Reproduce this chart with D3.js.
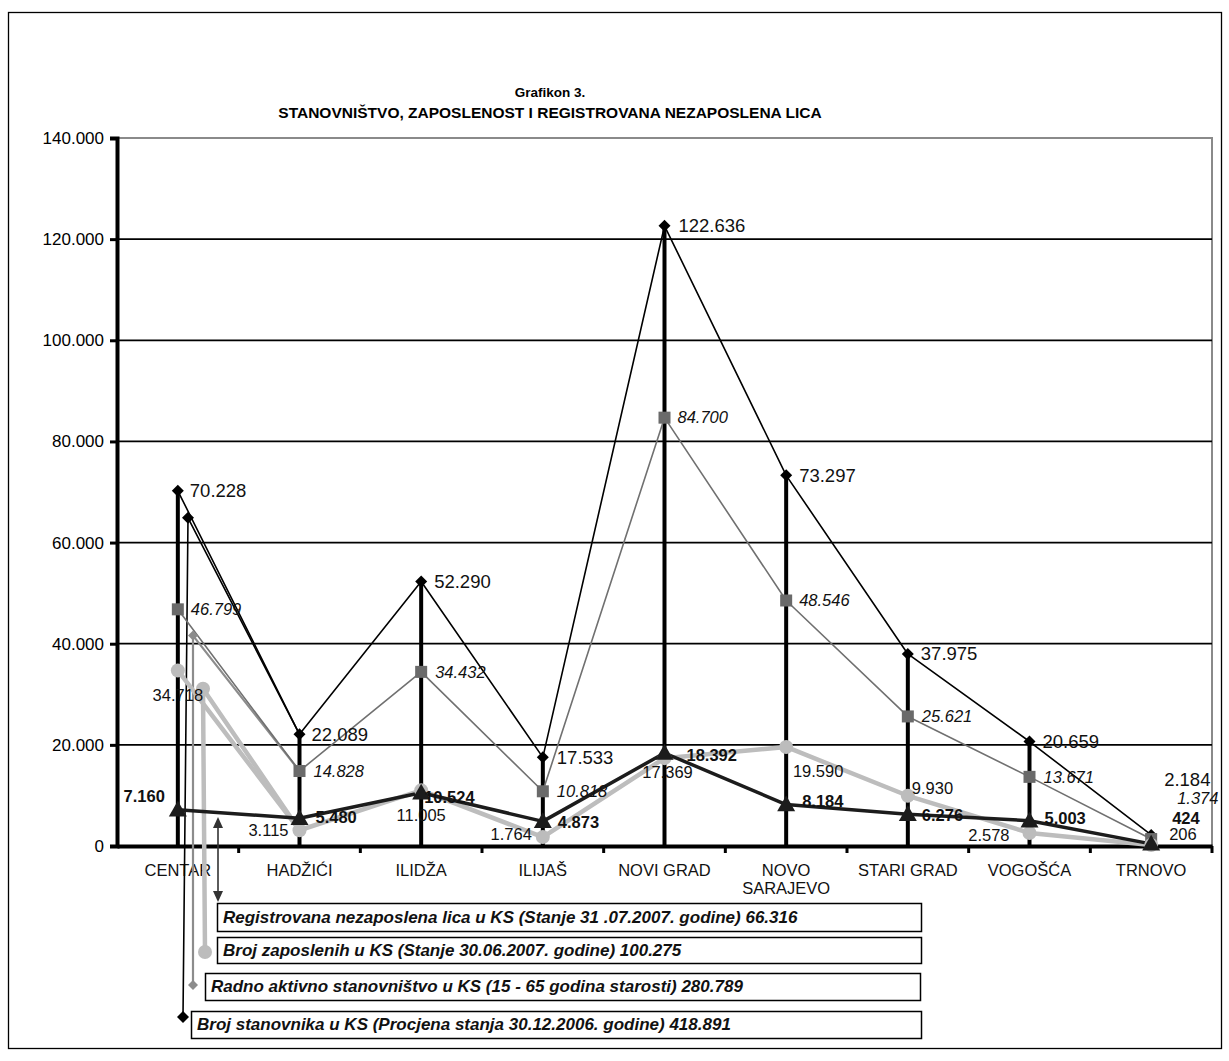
<!DOCTYPE html>
<html><head><meta charset="utf-8">
<script src="https://cdn.jsdelivr.net/npm/d3@7/dist/d3.min.js"></script>
<style>
body{margin:0;background:#fff}
svg text{font-family:"Liberation Sans",Arial,Helvetica,sans-serif}
</style>
</head><body>
<svg id="chart" width="1229" height="1061"></svg>
<script>
// ---------- DATA ----------
const categories = ["CENTAR","HADŽIĆI","ILIDŽA","ILIJAŠ","NOVI GRAD","NOVO SARAJEVO","STARI GRAD","VOGOŠĆA","TRNOVO"];
const stanovnika   = [70228,22089,52290,17533,122636,73297,37975,20659,2184];
const radnoAktivno = [46799,14828,34432,10818,84700,48546,25621,13671,1374];
const zaposleni    = [34718,3115,11005,1764,17369,19590,9930,2578,206];
const nezaposleni  = [7160,5480,10524,4873,18392,8184,6276,5003,424];
const yTickValues  = [0,20000,40000,60000,80000,100000,120000,140000];
const legendLabels = [
  "Registrovana nezaposlena lica u KS (Stanje 31 .07.2007. godine) 66.316",
  "Broj zaposlenih u KS (Stanje 30.06.2007. godine) 100.275",
  "Radno aktivno stanovništvo u KS (15 - 65 godina starosti) 280.789",
  "Broj stanovnika u KS (Procjena stanja 30.12.2006. godine) 418.891"
];
// value where each legend leader meets its series near CENTAR
const leaderValues = [64900, 41600, 31100];

// ---------- LAYOUT ----------
const svg = d3.select("#chart");
const L = 117, R = 1212, T = 138, B = 846;
const x = d3.scaleBand().domain(categories).range([L, R]).padding(0);
const cx = c => x(c) + x.bandwidth()/2;
const y = d3.scaleLinear().domain([0,140000]).range([B, T]);
const loc = d3.formatLocale({decimal:",", thousands:".", grouping:[3], currency:["",""]});
const fmt = loc.format(",d");

// outer frame
svg.append("rect").attr("x",8.5).attr("y",12.5).attr("width",1213).attr("height",1036)
  .attr("fill","none").attr("stroke","#000").attr("stroke-width",1.3);

// title
svg.append("text").attr("x",550).attr("y",97).attr("text-anchor","middle")
  .attr("font-size",13.5).attr("font-weight","bold").text("Grafikon 3.");
svg.append("text").attr("x",550).attr("y",118).attr("text-anchor","middle")
  .attr("font-size",15.5).attr("font-weight","bold")
  .text("STANOVNIŠTVO, ZAPOSLENOST I REGISTROVANA NEZAPOSLENA LICA");

// plot area border (gray)
svg.append("rect").attr("x",L).attr("y",T).attr("width",R-L).attr("height",B-T)
  .attr("fill","none").attr("stroke","#8a8a8a").attr("stroke-width",2);

// gridlines
svg.append("g").selectAll("line").data(yTickValues.filter(v=>v>0&&v<140000)).join("line")
  .attr("x1",L).attr("x2",R).attr("y1",d=>y(d)).attr("y2",d=>y(d))
  .attr("stroke","#000").attr("stroke-width",1.8);

// y axis
const yAxis = d3.axisLeft(y).tickValues(yTickValues).tickFormat(d=>d===0?"0":fmt(d)).tickSize(7).tickPadding(6);
const gy = svg.append("g").attr("transform",`translate(${L},0)`).call(yAxis);
gy.select(".domain").attr("stroke","#000").attr("stroke-width",4);
gy.selectAll(".tick line").attr("stroke","#000").attr("stroke-width",3);
gy.selectAll(".tick text").attr("font-size",17).attr("fill","#000")
  .attr("font-family","'Liberation Sans',Arial,sans-serif");

// drop lines (from highest value to axis)
const maxes = categories.map((c,i)=>Math.max(stanovnika[i],radnoAktivno[i],zaposleni[i],nezaposleni[i]));
svg.append("g").selectAll("line").data(categories).join("line")
  .attr("x1",d=>cx(d)).attr("x2",d=>cx(d))
  .attr("y1",(d,i)=>y(maxes[i])).attr("y2",y(0))
  .attr("stroke","#000").attr("stroke-width",4);

// x axis
const xAxis = d3.axisBottom(x).tickSize(0).tickFormat("");
const gx = svg.append("g").attr("transform",`translate(0,${B})`).call(xAxis);
gx.select(".domain").attr("stroke","#000").attr("stroke-width",4);
const bounds = categories.map(c=>x(c)).concat([R]);
svg.append("g").selectAll("line").data(bounds.slice(1)).join("line")
  .attr("x1",d=>d).attr("x2",d=>d).attr("y1",B).attr("y2",B+7)
  .attr("stroke","#000").attr("stroke-width",3);
const catG = svg.append("g");
categories.forEach(c=>{
  const parts = c==="NOVO SARAJEVO" ? ["NOVO","SARAJEVO"] : [c];
  parts.forEach((p,k)=>{
    catG.append("text").attr("x",cx(c)).attr("y",876+k*18).attr("text-anchor","middle")
      .attr("font-size",16.5).attr("fill","#111").text(p);
  });
});

// ---------- SERIES ----------
const series = [
  {vals:stanovnika, color:"#000", width:1.6, marker:"diamond", mcolor:"#000", msize:6,
   font:{size:18.5, style:"normal", weight:"normal"},
   pos:[[12,0],[12,0],[13,0],[14,0],[14,0],[13,0],[13,0],[13,0],[13,-55]]},
  {vals:radnoAktivno, color:"#707070", width:1.6, marker:"square", mcolor:"#6a6a6a", msize:6,
   font:{size:16.5, style:"italic", weight:"normal"},
   pos:[[13,0],[14,0],[14,0],[14,0],[13,0],[13,0],[14,0],[14,0],[26,-41]]},
  {vals:zaposleni, color:"#bdbdbd", width:4.5, marker:"circle", mcolor:"#bcbcbc", msize:7,
   font:{size:16.5, style:"normal", weight:"normal"},
   pos:[["c",0,25],["e",-11,0],["c",0,25],["e",-11,-3],["c",3,14],["c",32,24],["s",4,-8],["e",-20,2],["s",18,-11]]},
  {vals:nezaposleni, color:"#1c1c1c", width:3.5, marker:"triangle", mcolor:"#1c1c1c", msize:9,
   font:{size:16.5, style:"normal", weight:"bold"},
   pos:[["e",-13,-14],["s",16,-1],["s",3,4],["s",15,1],["s",22,2],["s",16,-3],["s",14,1],["s",15,-2],["s",21,-26]]}
];

const line = d3.line().x((d,i)=>cx(categories[i])).y(d=>y(d));

function drawMarker(g, type, px, py, color, s){
  if(type==="diamond"){
    g.append("path").attr("d",`M${px},${py-s}L${px+s},${py}L${px},${py+s}L${px-s},${py}Z`).attr("fill",color);
  } else if(type==="square"){
    g.append("rect").attr("x",px-s).attr("y",py-s).attr("width",2*s).attr("height",2*s).attr("fill",color);
  } else if(type==="circle"){
    g.append("circle").attr("cx",px).attr("cy",py).attr("r",s).attr("fill",color);
  } else if(type==="triangle"){
    g.append("path").attr("d",`M${px},${py-s}L${px+s},${py+s*0.75}L${px-s},${py+s*0.75}Z`).attr("fill",color);
  }
}

// legend leader lines (drawn under series)
const leaderG = svg.append("g");
const legendMarkers = [
  {sx:183, sy:1017, tx:188, s:0},
  {sx:193, sy:985,  tx:193, s:1},
  {sx:205, sy:952,  tx:203, s:2}
];
legendMarkers.forEach((m,k)=>{
  const ser = series[m.s];
  const ty = y(leaderValues[k]);
  const hx = cx(categories[1]), hy = y(ser.vals[1]);
  const lcolor = k===1 ? "#8c8c8c" : ser.color;
  const lw = k===0 ? 1.6 : (k===1 ? 2.2 : 4.5);
  leaderG.append("path").attr("d",`M${m.sx},${m.sy}L${m.tx},${ty}L${hx},${hy}`)
    .attr("fill","none").attr("stroke",lcolor).attr("stroke-width",lw).attr("stroke-linejoin","round");
});

const seriesG = svg.append("g");
series.forEach(s=>{
  seriesG.append("path").datum(s.vals).attr("d",line).attr("fill","none")
    .attr("stroke",s.color).attr("stroke-width",s.width).attr("stroke-linejoin","round");
});
series.forEach(s=>{
  s.vals.forEach((v,i)=>drawMarker(seriesG, s.marker, cx(categories[i]), y(v), s.mcolor, s.msize));
});

legendMarkers.forEach((m,k)=>{
  const ty = y(leaderValues[k]);
  if(k===0){ drawMarker(seriesG,"diamond",m.tx,ty,"#000",6); drawMarker(seriesG,"diamond",m.sx,m.sy,"#000",6); }
  if(k===1){ drawMarker(seriesG,"diamond",m.tx,ty,"#8c8c8c",5); drawMarker(seriesG,"diamond",m.sx,m.sy,"#8c8c8c",5); }
  if(k===2){ drawMarker(seriesG,"circle",m.tx,ty,"#bcbcbc",7); drawMarker(seriesG,"circle",m.sx,m.sy,"#bcbcbc",7); }
});

// double-headed arrow for the unemployed series legend
const ax = 218, ay1 = 817, ay2 = 902;
seriesG.append("line").attr("x1",ax).attr("x2",ax).attr("y1",ay1+6).attr("y2",ay2-6)
  .attr("stroke","#333").attr("stroke-width",1.6);
seriesG.append("path").attr("d",`M${ax},${ay1}L${ax+5},${ay1+11}L${ax-5},${ay1+11}Z`).attr("fill","#333");
seriesG.append("path").attr("d",`M${ax},${ay2}L${ax+5},${ay2-11}L${ax-5},${ay2-11}Z`).attr("fill","#333");

// data labels
const labG = svg.append("g");
series.forEach(s=>{
  s.vals.forEach((v,i)=>{
    const px = cx(categories[i]), py = y(v);
    const p = s.pos[i];
    let anchor="start", dx, dy;
    if(typeof p[0]==="string"){ anchor = p[0]==="c"?"middle":(p[0]==="e"?"end":"start"); dx=p[1]; dy=p[2]; }
    else { dx=p[0]; dy=p[1]; }
    labG.append("text").attr("x",px+dx).attr("y",py+dy).attr("dy","0.35em")
      .attr("text-anchor",anchor).attr("font-size",s.font.size)
      .attr("font-style",s.font.style).attr("font-weight",s.font.weight)
      .attr("fill","#111").text(fmt(v));
  });
});

// legend boxes
const boxes = [
  {x:217, y:903, w:704, h:28},
  {x:217, y:937, w:704, h:26},
  {x:205, y:973, w:715, h:27},
  {x:191, y:1011, w:730, h:27}
];
const legG = svg.append("g");
legendLabels.forEach((t,i)=>{
  const b = boxes[i];
  legG.append("rect").attr("x",b.x+0.5).attr("y",b.y+0.5).attr("width",b.w).attr("height",b.h)
    .attr("fill","#fff").attr("stroke","#000").attr("stroke-width",1.5);
  legG.append("text").attr("x",b.x+6).attr("y",b.y+b.h/2).attr("dy","0.35em")
    .attr("font-size",17).attr("font-weight","bold").attr("font-style","italic").attr("fill","#111").text(t);
});
</script>
</body></html>
